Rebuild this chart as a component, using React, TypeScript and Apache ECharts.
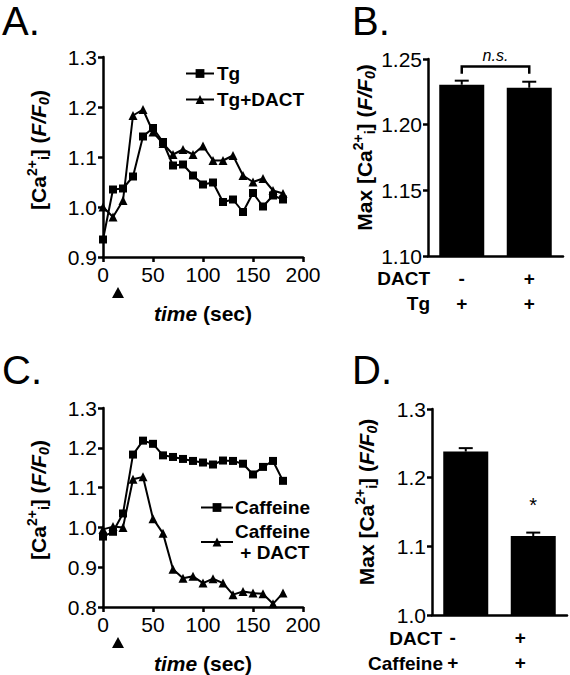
import React, { useEffect, useRef } from 'react';
import * as echarts from 'echarts';

// ---- data ----
const timeSec = [0, 10, 20, 30, 40, 50, 60, 70, 80, 90, 100, 110, 120, 130, 140, 150, 160, 170, 180];
const tgRatio = [0.935, 1.035, 1.037, 1.061, 1.141, 1.158, 1.130, 1.083, 1.085, 1.063, 1.045, 1.049, 1.010, 1.015, 0.990, 1.028, 1.001, 1.023, 1.015];
const tgDactRatio = [1.000, 0.980, 1.013, 1.183, 1.195, 1.150, 1.127, 1.105, 1.115, 1.105, 1.122, 1.093, 1.093, 1.103, 1.063, 1.050, 1.057, 1.033, 1.027];
const caffRatio = [0.977, 0.989, 1.035, 1.183, 1.218, 1.210, 1.181, 1.177, 1.172, 1.167, 1.163, 1.158, 1.168, 1.167, 1.160, 1.133, 1.152, 1.167, 1.117];
const caffDactRatio = [0.995, 1.002, 1.000, 1.121, 1.127, 1.022, 0.985, 0.895, 0.872, 0.877, 0.860, 0.871, 0.860, 0.831, 0.839, 0.835, 0.833, 0.808, 0.835];
const stimulusTime = [15];

const barCats = ['Tg', 'Tg+DACT'];
const dactSignsB = ['-', '+'];
const tgSignsB = ['+', '+'];
const maxB = [1.2304, 1.2281];
const semB = [0.0031, 0.0046];

const barCatsD = ['Caffeine', 'Caffeine+DACT'];
const dactSignsD = ['-', '+'];
const caffSignsD = ['+', '+'];
const maxD = [1.238, 1.115];
const semD = [0.005, 0.005];

const FONT = '"Liberation Sans", Arial, Helvetica, sans-serif';

const titleRich = {
  b: { fontFamily: FONT, fontWeight: 'bold', fontSize: 21, color: '#000', lineHeight: 26, verticalAlign: 'middle' },
  bi: { fontFamily: FONT, fontWeight: 'bold', fontStyle: 'italic', fontSize: 21, color: '#000', lineHeight: 26, verticalAlign: 'middle' },
  sup: { fontFamily: FONT, fontWeight: 'bold', fontSize: 14, color: '#000', lineHeight: 13, verticalAlign: 'top' },
  sub: { fontFamily: FONT, fontWeight: 'bold', fontSize: 14, color: '#000', lineHeight: 13, verticalAlign: 'bottom' },
  bisub: { fontFamily: FONT, fontWeight: 'bold', fontStyle: 'italic', fontSize: 14, color: '#000', lineHeight: 13, verticalAlign: 'bottom' },
};
const caName = '{b|[Ca}{sup|2+}{sub|i}{b|] (}{bi|F/F}{bisub|0}{b|)}';
const maxCaName = '{b|Max [Ca}{sup|2+}{sub|i}{b|] (}{bi|F/F}{bisub|0}{b|)}';

const axisLineStyle = { lineStyle: { color: '#000', width: 2.5 } };
const tickStyle = { show: true, length: 5, lineStyle: { color: '#000', width: 2.5 } };
const labelStyle = { color: '#000', fontFamily: FONT, fontSize: 21 };

function timeAxis(gridIndex: number) {
  return {
    type: 'value', gridIndex, min: 0, max: 200, interval: 50,
    axisLine: axisLineStyle, axisTick: tickStyle, splitLine: { show: false },
    axisLabel: { ...labelStyle, margin: 7 },
    name: '{bi|time} {b|(sec)}', nameLocation: 'middle', nameGap: 43,
    nameTextStyle: { rich: titleRich, fontFamily: FONT, fontWeight: 'bold', fontSize: 21, color: '#000' },
  };
}

function ratioAxis(gridIndex: number, min: number, max: number, interval: number, digits: number, name: string, nameGap: number, lift: number) {
  return {
    type: 'value', gridIndex, min, max, interval,
    axisLine: { show: true, ...axisLineStyle }, axisTick: tickStyle, splitLine: { show: false },
    axisLabel: { ...labelStyle, margin: 6, formatter: (v: number) => v.toFixed(digits) },
    name, nameLocation: 'middle', nameGap, nameRotate: 90,
    nameTextStyle: { rich: titleRich, fontFamily: FONT, fontWeight: 'bold', fontSize: 21, color: '#000', padding: [0, 0, 0, lift] },
  };
}

function lineSeries(name: string, values: number[], axis: number, symbol: string, size: number) {
  return {
    type: 'line', name, xAxisIndex: axis, yAxisIndex: axis,
    data: timeSec.map((t, i) => [t, values[i]]),
    symbol, symbolSize: size, showSymbol: true,
    lineStyle: { color: '#000', width: 2 },
    itemStyle: { color: '#000' },
  };
}

function stimulusSeries(axis: number, yMin: number) {
  return {
    type: 'custom', xAxisIndex: axis, yAxisIndex: axis, clip: false, silent: true,
    data: stimulusTime.map((t) => [t, yMin]),
    renderItem: (_p: any, api: any) => {
      const p = api.coord([api.value(0), api.value(1)]);
      return {
        type: 'polygon',
        shape: { points: [[p[0], p[1] + 30], [p[0] - 6, p[1] + 41], [p[0] + 6, p[1] + 41]] },
        style: { fill: '#000' },
      };
    },
  };
}

function errorSeries(axis: number, vals: number[], errs: number[]) {
  return {
    type: 'custom', xAxisIndex: axis, yAxisIndex: axis, clip: false, silent: true, z: 5,
    data: vals.map((v, i) => [i, v, errs[i]]),
    renderItem: (_p: any, api: any) => {
      const base = api.coord([api.value(0), api.value(1)]);
      const top = api.coord([api.value(0), api.value(1) + api.value(2)]);
      const st = { stroke: '#000', lineWidth: 2 };
      return {
        type: 'group',
        children: [
          { type: 'line', shape: { x1: base[0], y1: base[1], x2: base[0], y2: top[1] }, style: st },
          { type: 'line', shape: { x1: base[0] - 7, y1: top[1], x2: base[0] + 7, y2: top[1] }, style: st },
        ],
      };
    },
  };
}

function barAxis(gridIndex: number, cats: string[], row1: string[], row2: string[], shift: number) {
  return {
    type: 'category', gridIndex, data: cats,
    axisLine: axisLineStyle, axisTick: { show: false },
    axisLabel: {
      interval: 0, margin: 10,
      formatter: (_v: string, i: number) => `{s|${row1[i]}}\n{s|${row2[i]}}`,
      rich: { s: { fontFamily: FONT, fontWeight: 'bold', fontSize: 19, color: '#000', lineHeight: 25, padding: [0, shift, 0, 0] } },
    },
  };
}

function barSeries(axis: number, vals: number[]) {
  return {
    type: 'bar', xAxisIndex: axis, yAxisIndex: axis, barWidth: 45,
    data: vals, itemStyle: { color: '#000' },
  };
}

const letter = (t: string, x: number, y: number) => ({
  type: 'text', x, y,
  style: { text: t, fontFamily: FONT, fontSize: 40, fill: '#000', verticalAlign: 'middle', align: 'left' },
});
const rowLabel = (t: string, x: number, y: number) => ({
  type: 'text', x, y,
  style: { text: t, fontFamily: FONT, fontWeight: 'bold', fontSize: 19, fill: '#000', verticalAlign: 'middle', align: 'right' },
});

export default function App() {
  const ref = useRef<HTMLDivElement>(null);
  useEffect(() => {
    if (!ref.current) return;
    const chart = echarts.init(ref.current, null, { renderer: 'svg' });
    const option: any = {
      animation: false,
      backgroundColor: '#fff',
      grid: [
        { left: 103, top: 57, width: 200, height: 200 },
        { left: 428, top: 59, width: 135, height: 197 },
        { left: 103, top: 408, width: 200, height: 199 },
        { left: 432, top: 409, width: 135, height: 206 },
      ],
      xAxis: [
        timeAxis(0),
        barAxis(1, barCats, dactSignsB, tgSignsB, 0),
        timeAxis(2),
        barAxis(3, barCatsD, dactSignsD, caffSignsD, 26),
      ],
      yAxis: [
        ratioAxis(0, 0.9, 1.3, 0.1, 1, caName, 52, 14),
        ratioAxis(1, 1.1, 1.25, 0.05, 2, maxCaName, 50, 20),
        ratioAxis(2, 0.8, 1.3, 0.1, 1, caName, 52, 15),
        ratioAxis(3, 1.0, 1.3, 0.1, 1, maxCaName, 53, 20),
      ],
      legend: [
        {
          data: ['Tg', 'Tg+DACT'], orient: 'vertical', left: 180, top: 59, itemGap: 7,
          itemWidth: 28, itemHeight: 11, selectedMode: false,
          textStyle: { fontFamily: FONT, fontWeight: 'bold', fontSize: 19, color: '#000', padding: [0, 0, 0, -2] },
        },
        {
          data: ['Caffeine', 'Caffeine\n + DACT'], orient: 'vertical', left: 195, top: 492, itemGap: 3,
          itemWidth: 32, itemHeight: 11, selectedMode: false, align: 'left',
          textStyle: { fontFamily: FONT, fontWeight: 'bold', fontSize: 19, color: '#000', lineHeight: 21, padding: [0, 0, 0, -3] },
        },
      ],
      series: [
        lineSeries('Tg', tgRatio, 0, 'rect', 8),
        lineSeries('Tg+DACT', tgDactRatio, 0, 'triangle', 9),
        stimulusSeries(0, 0.9),
        barSeries(1, maxB),
        errorSeries(1, maxB, semB),
        {
          type: 'custom', xAxisIndex: 1, yAxisIndex: 1, clip: false, silent: true,
          data: [[0, 1, 1.2442, 1.2388]],
          renderItem: (_p: any, api: any) => {
            const a = api.coord([api.value(0), api.value(2)]);
            const b = api.coord([api.value(1), api.value(2)]);
            const legY = api.coord([api.value(0), api.value(3)])[1];
            return {
              type: 'group',
              children: [
                { type: 'polyline', shape: { points: [[a[0], legY], [a[0], a[1]], [b[0], b[1]], [b[0], legY]] }, style: { stroke: '#000', lineWidth: 2.5, fill: 'none' } },
                { type: 'text', x: (a[0] + b[0]) / 2, y: a[1] - 3, style: { text: 'n.s.', fontFamily: FONT, fontStyle: 'italic', fontSize: 16, fill: '#000', align: 'center', verticalAlign: 'bottom' } },
              ],
            };
          },
        },
        lineSeries('Caffeine', caffRatio, 2, 'rect', 8),
        lineSeries('Caffeine\n + DACT', caffDactRatio, 2, 'triangle', 9),
        stimulusSeries(2, 0.8),
        barSeries(3, maxD),
        errorSeries(3, maxD, semD),
        {
          type: 'custom', xAxisIndex: 3, yAxisIndex: 3, clip: false, silent: true,
          data: [[1, 1.16]],
          renderItem: (_p: any, api: any) => {
            const p = api.coord([api.value(0), api.value(1)]);
            return { type: 'text', x: p[0], y: p[1], style: { text: '*', fontFamily: FONT, fontSize: 20, fill: '#000', align: 'center', verticalAlign: 'middle' } };
          },
        },
      ],
      graphic: [
        letter('A.', 2, 21),
        letter('B.', 352, 21),
        letter('C.', 2, 370),
        letter('D.', 352, 370),
        rowLabel('DACT', 430, 278),
        rowLabel('Tg', 430, 303),
        rowLabel('DACT', 442, 638),
        rowLabel('Caffeine', 443, 663),
      ],
    };
    chart.setOption(option);
    return () => chart.dispose();
  }, []);
  return <div ref={ref} style={{ position: 'fixed', left: 0, top: 0, width: 570, height: 675, background: '#fff' }} />;
}
